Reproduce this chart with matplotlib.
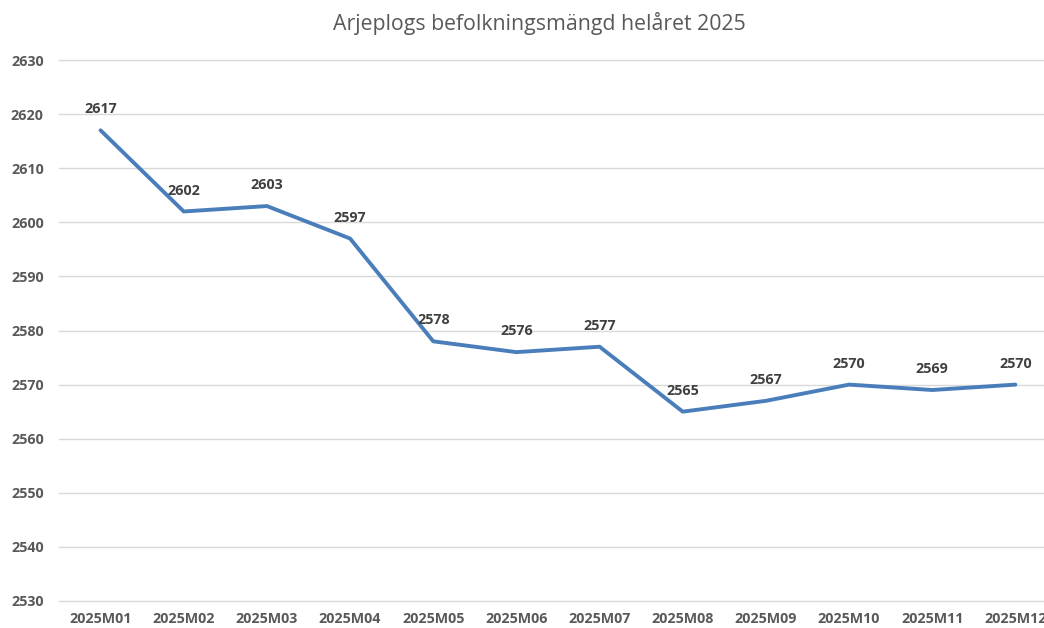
import matplotlib.pyplot as plt

plt.rcParams['font.family'] = ['Open Sans', 'DejaVu Sans']

months = ['2025M01', '2025M02', '2025M03', '2025M04', '2025M05', '2025M06',
          '2025M07', '2025M08', '2025M09', '2025M10', '2025M11', '2025M12']
population = [2617, 2602, 2603, 2597, 2578, 2576, 2577, 2565, 2567, 2570, 2569, 2570]
yticks = list(range(2530, 2631, 10))

gray = '#595959'
blue = '#4a7ebb'

fig = plt.figure(figsize=(10.44, 6.28), dpi=100)
# plot area runs past the right edge like in the original
ax = fig.add_axes([59 / 1044, 27 / 628, 998 / 1044, 541 / 628])

x = list(range(len(months)))
ax.plot(x, population, color=blue, linewidth=2.8, solid_capstyle='round', zorder=3)

for xi, v in zip(x, population):
    ax.annotate(str(v), (xi, v), xytext=(0, 10), textcoords='offset points',
                ha='center', va='bottom', fontsize=10.3, fontweight='bold', color='#404040')

ax.set_xlim(-0.5, len(months) - 0.5)
ax.set_ylim(2530, 2630)
ax.set_yticks(yticks)
ax.set_xticks(x)
ax.set_xticklabels(months)
ax.tick_params(axis='both', length=0, labelsize=10.3, labelcolor=gray)
ax.tick_params(axis='y', pad=11)
ax.tick_params(axis='x', pad=8)
for lbl in ax.get_xticklabels() + ax.get_yticklabels():
    lbl.set_fontweight('bold')

ax.grid(axis='y', color='#d9d9d9', linewidth=1)
for gl in ax.get_ygridlines():
    gl.set_clip_on(False)
ax.set_axisbelow(True)
for s in ax.spines.values():
    s.set_visible(False)

fig.text(0.517, 0.962, 'Arjeplogs befolkningsmängd helåret 2025', ha='center', va='center',
         fontsize=15.3, color=gray)

fig.savefig('out.png', dpi=100)
